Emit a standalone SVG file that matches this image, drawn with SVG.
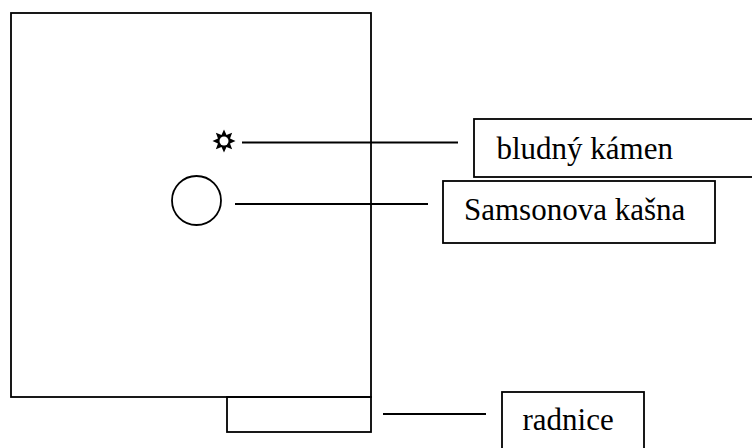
<svg xmlns="http://www.w3.org/2000/svg" width="752" height="448" viewBox="0 0 752 448">
<style>
.sh{fill:none;stroke:#000;stroke-width:1.8}
.ln{stroke:#000;stroke-width:1.8;fill:none}
.lb{fill:#fff;stroke:#000;stroke-width:1.8}
.tx{font-family:"Liberation Serif","Times New Roman",serif;font-size:31px;fill:#000}
</style>
<rect width="752" height="448" fill="#fff"/>
<g id="square"><rect class="sh" x="11" y="13" width="360" height="384"/></g>
<g id="townhall-shape"><rect class="sh" x="227" y="397" width="144" height="35"/></g>
<g id="star">
<polygon fill="#000" points="224,129.5 226.49,134.99 232.13,132.87 230.01,138.51 235.5,141 230.01,143.49 232.13,149.13 226.49,147.01 224,152.5 221.51,147.01 215.87,149.13 217.99,143.49 212.5,141 217.99,138.51 215.87,132.87 221.51,134.99"/>
<circle cx="224" cy="141" r="4.5" fill="#fff"/>
</g>
<g id="fountain"><circle class="sh" cx="196.5" cy="200.5" r="24.5"/></g>
<g id="connectors">
<line class="ln" x1="242" y1="142.5" x2="458" y2="142.5"/>
<line class="ln" x1="235" y1="204" x2="428" y2="204"/>
<line class="ln" x1="383" y1="414" x2="486" y2="414"/>
</g>
<g id="label-bludny"><rect class="lb" x="474" y="119" width="290" height="58"/><text class="tx" x="496.5" y="158.5">bludný kámen</text></g>
<g id="label-samson"><rect class="lb" x="443" y="181" width="272" height="62"/><text class="tx" x="464" y="220">Samsonova kašna</text></g>
<g id="label-radnice"><rect class="lb" x="502" y="392" width="142" height="66"/><text class="tx" x="522.5" y="430">radnice</text></g>
</svg>
